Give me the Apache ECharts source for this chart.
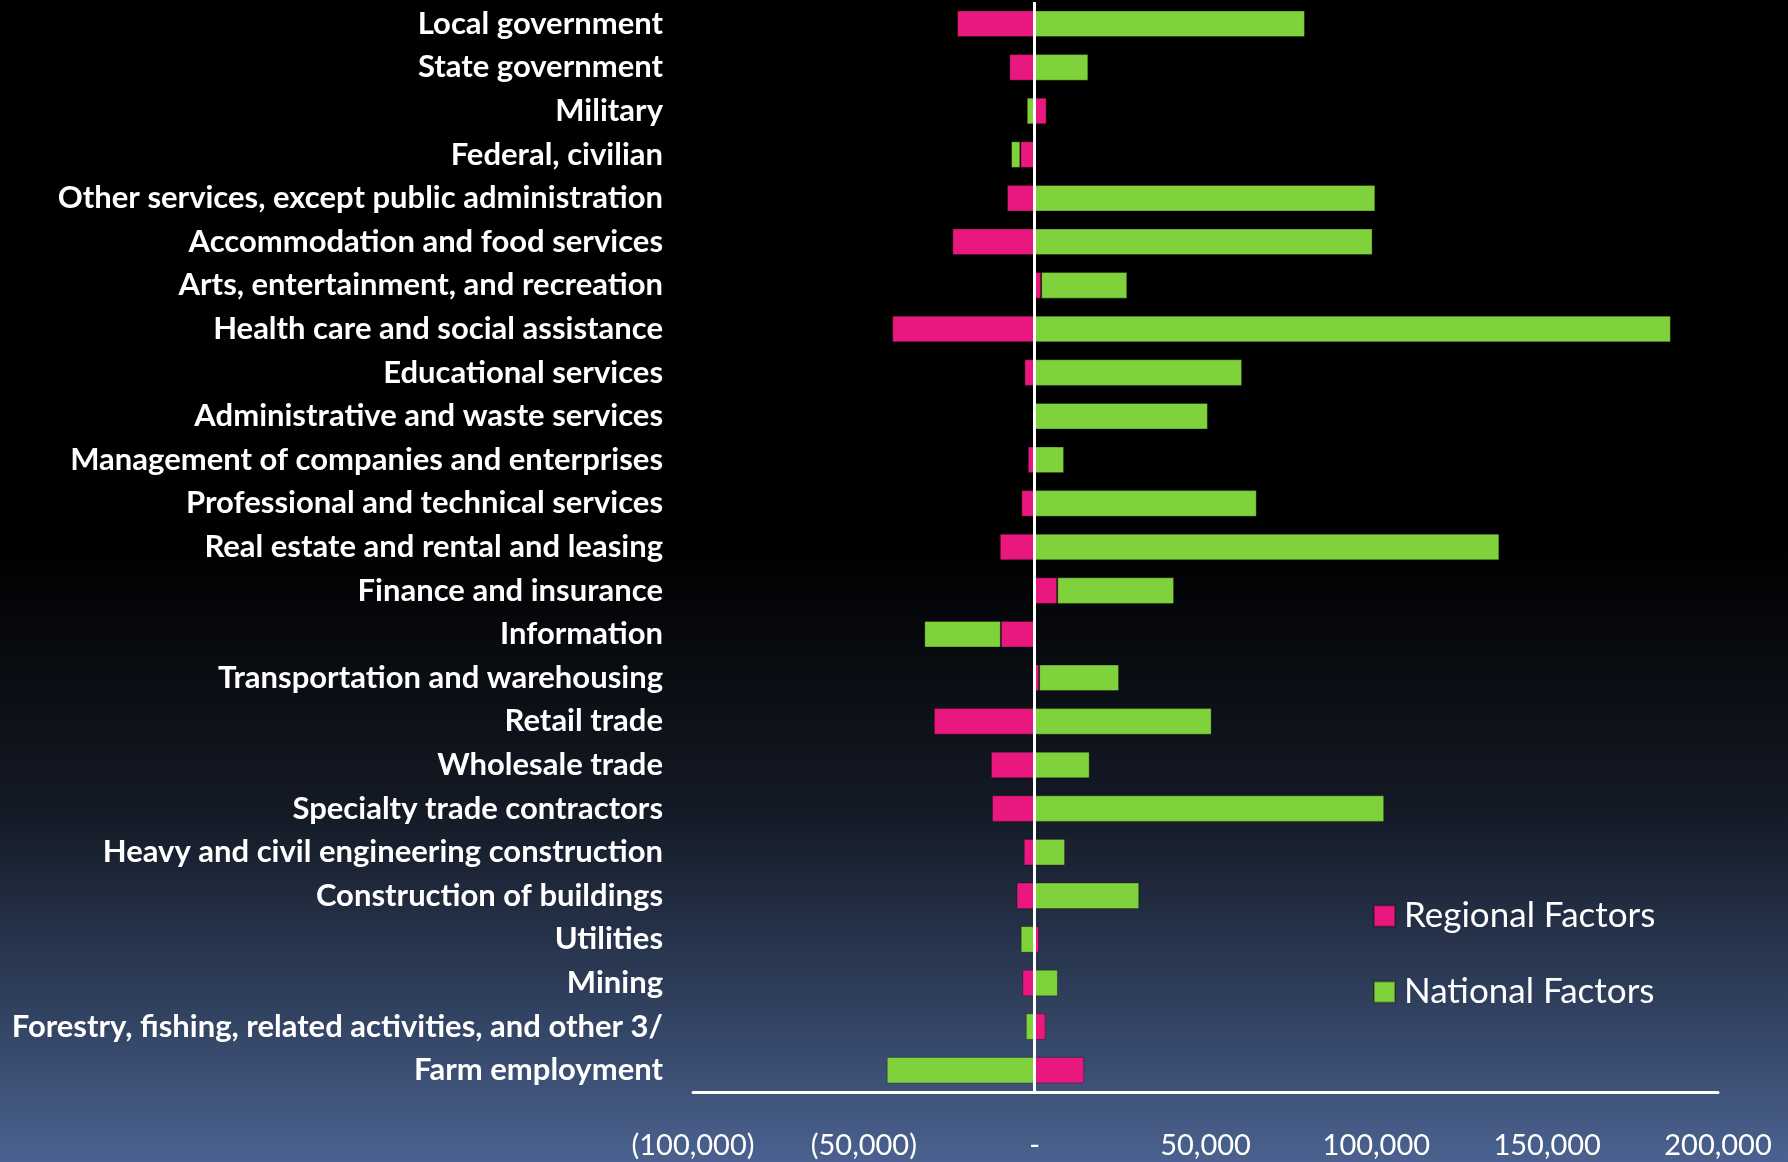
<!DOCTYPE html>
<html>
<head>
<meta charset="utf-8">
<script src="https://cdn.jsdelivr.net/npm/echarts@6/dist/echarts.min.js"></script>
<style>
html,body{margin:0;padding:0;background:#000;}
#chart{width:1788px;height:1162px;}
</style>
</head>
<body>
<div id="chart"></div>
<script>
const categories = [
  'Local government',
  'State government',
  'Military',
  'Federal, civilian',
  'Other services, except public administration',
  'Accommodation and food services',
  'Arts, entertainment, and recreation',
  'Health care and social assistance',
  'Educational services',
  'Administrative and waste services',
  'Management of companies and enterprises',
  'Professional and technical services',
  'Real estate and rental and leasing',
  'Finance and insurance',
  'Information',
  'Transportation and warehousing',
  'Retail trade',
  'Wholesale trade',
  'Specialty trade contractors',
  'Heavy and civil engineering construction',
  'Construction of buildings',
  'Utilities',
  'Mining',
  'Forestry, fishing, related activities, and other 3/',
  'Farm employment'
];
const regionalFactors = [
  -22700, -7400, 3500, -4200, -8100, -24100, 1900, -41700, -3000, -300,
  -2000, -3900, -10200, 6600, -9900, 1300, -29500, -12800, -12500, -3200,
  -5300, 1300, -3600, 3200, 14500
];
const nationalFactors = [
  79100, 15700, -2300, -2700, 99700, 98900, 25200, 186200, 60700, 50700,
  8600, 65000, 136000, 34200, -22400, 23400, 51800, 16100, 102300, 8900,
  30600, -4100, 6800, -2600, -43300
];
const tickValues = [-100000, -50000, 0, 50000, 100000, 150000, 200000];
const tickLabels = ['(100,000)', '(50,000)', '-', '50,000', '100,000', '150,000', '200,000'];

const chart = echarts.init(document.getElementById('chart'), null, {renderer: 'canvas'});
const option = {
  animation: false,
  backgroundColor: {
    type: 'linear', x: 0, y: 0, x2: 0, y2: 1,
    colorStops: [
      {offset: 0, color: '#000000'},
      {offset: 0.47, color: '#000000'},
      {offset: 0.70, color: '#141a26'},
      {offset: 0.86, color: '#2f3f5c'},
      {offset: 1, color: '#4b6290'}
    ]
  },
  grid: {left: 693, right: 70, top: 2, bottom: 70, containLabel: false},
  legend: {
    orient: 'vertical',
    left: 1368,
    top: 890,
    itemWidth: 21,
    itemHeight: 21,
    itemGap: 34,
    icon: 'rect',
    textStyle: {color: '#ffffff', fontFamily: 'Lato', fontSize: 35, lineHeight: 42, padding: [0, 0, 0, 4]},
    data: ['Regional Factors', 'National Factors']
  },
  xAxis: {
    type: 'value',
    min: -100000,
    max: 200000,
    interval: 50000,
    axisLine: {show: true, onZero: false, lineStyle: {color: '#ffffff', width: 3}},
    axisTick: {show: false},
    splitLine: {show: false},
    axisLabel: {
      color: '#ffffff',
      fontFamily: 'Lato',
      fontSize: 29,
      margin: 39,
      formatter: function (v) {
        const i = tickValues.indexOf(v);
        return i >= 0 ? tickLabels[i] : '';
      }
    }
  },
  yAxis: {
    type: 'category',
    data: categories,
    inverse: true,
    axisLine: {show: false, onZero: false},
    axisTick: {show: false},
    splitLine: {show: false},
    axisLabel: {
      color: '#ffffff',
      fontFamily: 'Lato',
      fontWeight: 'bold',
      fontSize: 31,
      margin: 30
    }
  },
  series: [
    {
      name: 'Regional Factors',
      type: 'bar',
      stack: 'total',
      barWidth: '61%',
      data: regionalFactors,
      itemStyle: {color: '#e9187e', borderColor: 'rgba(0,0,0,0.3)', borderWidth: 1},
      markLine: {
        silent: true,
        symbol: ['none', 'none'],
        label: {show: false},
        lineStyle: {color: '#ffffff', width: 3, type: 'solid'},
        data: [{xAxis: 0}],
        z: 10
      }
    },
    {
      name: 'National Factors',
      type: 'bar',
      stack: 'total',
      barWidth: '61%',
      data: nationalFactors,
      itemStyle: {color: '#80d23c', borderColor: 'rgba(0,0,0,0.3)', borderWidth: 1}
    }
  ]
};
chart.setOption(option);
</script>
</body>
</html>
